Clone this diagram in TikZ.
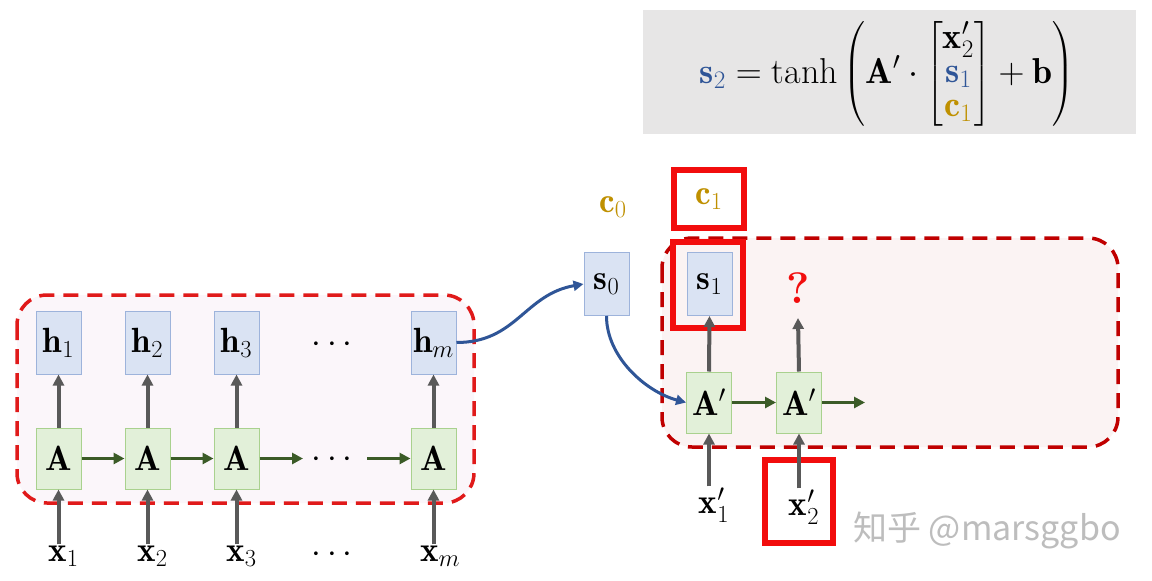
\RequirePackage{fix-cm}
\documentclass[tikz,border=0pt]{standalone}
\usepackage{amsmath}
\usepackage{fontspec}
\newfontfamily\cjkfont{Noto Sans CJK SC}
\usetikzlibrary{arrows.meta}
\definecolor{hfill}{HTML}{DAE3F3}
\definecolor{hborder}{HTML}{9DB3DB}
\definecolor{afill}{HTML}{E2F0D9}
\definecolor{aborder}{HTML}{A9D18E}
\definecolor{grayarrow}{HTML}{595959}
\definecolor{greenarrow}{HTML}{3B5B27}
\definecolor{sblue}{HTML}{2F5597}
\definecolor{cgold}{HTML}{BF9000}
\definecolor{redA}{HTML}{E01A1A}
\definecolor{redB}{HTML}{C00000}
\definecolor{boxred}{HTML}{F20D0D}
\definecolor{pinkA}{HTML}{FBF6FA}
\definecolor{pinkB}{HTML}{FBF3F3}
\definecolor{formgray}{HTML}{E7E6E6}
\definecolor{wmgray}{HTML}{BDBDBD}
\tikzset{
  hbox/.style={rectangle, fill=hfill, draw=hborder, line width=1pt, minimum width=45pt, minimum height=63pt, inner sep=0pt, font=\fontsize{35}{40}\selectfont},
  abox/.style={rectangle, fill=afill, draw=aborder, line width=1pt, minimum width=45pt, minimum height=61pt, inner sep=0pt, font=\fontsize{35}{40}\selectfont},
  lbl/.style={inner sep=1pt, font=\fontsize{35}{40}\selectfont},
  grayarr/.style={draw=grayarrow, line width=4pt, -{Triangle[length=11pt,width=11pt]}},
  greenarr/.style={draw=greenarrow, line width=3.5pt, -{Triangle[length=11pt,width=11pt]}},
  bluearr/.style={draw=sblue, line width=3pt, -{Triangle[length=10pt,width=10pt]}},
  dashbox/.style={line width=3.5pt, dash pattern=on 15pt off 9pt, rounded corners=30pt},
  redbox/.style={rectangle, draw=boxred, line width=6.5pt, inner sep=0pt},
}
\begin{document}
\begin{tikzpicture}[x=1pt,y=-1pt]
\useasboundingbox[fill=white] (0,0) rectangle (1152,581);
% formula box
\fill[formgray] (643,10) rectangle (1136,134);
\node[font=\fontsize{36}{34}\selectfont] (formula) at (887,74) {$\textcolor{sblue}{\mathbf{s}_2} = \tanh\left(\mathbf{A}'\cdot\begin{bmatrix}\mathbf{x}'_2\\ \textcolor{sblue}{\mathbf{s}_1}\\ \textcolor{cgold}{\mathbf{c}_1}\end{bmatrix} + \mathbf{b}\right)$};
% dashed regions
\draw[dashbox, draw=redA, fill=pinkA] (17,295) rectangle (474,503);
\draw[dashbox, draw=redB, fill=pinkB] (662,238) rectangle (1118,447);
% encoder
\foreach \n/\x in {1/58.5,2/147.5,3/236.5} {
  \node[hbox] (h\n) at (\x,342.5) {$\mathbf{h}_\n$};
  \node[abox] (A\n) at (\x,458.5) {$\mathbf{A}$};
  \node[lbl] (x\n) at (\x+5,556) {$\mathbf{x}_\n$};
  \draw[grayarr] (A\n.north) -- (h\n.south);
  \draw[grayarr] (A\n |- x\n.north) -- (A\n.south);
}
\node[hbox] (hm) at (433.5,342.5) {$\mathbf{h}_m$};
\node[abox] (Am) at (433.5,458.5) {$\mathbf{A}$};
\node[lbl] (xm) at (440,556) {$\mathbf{x}_m$};
\draw[grayarr] (Am.north) -- (hm.south);
\draw[grayarr] (Am |- xm.north) -- (Am.south);
\node[lbl] (dtop) at (335,345) {$\cdots$};
\node[lbl] (dmid) at (335,460) {$\cdots$};
\node[lbl] (dbot) at (335,555) {$\cdots$};
\coordinate (g3end) at (303,458.5);
\coordinate (gmstart) at (367,458.5);
\draw[greenarr] (A1.east) -- (A2.west);
\draw[greenarr] (A2.east) -- (A3.west);
\draw[greenarr] (A3.east) -- (g3end);
\draw[greenarr] (gmstart) -- (Am.west);
% decoder
\node[hbox] (s0) at (606.5,284) {$\mathbf{s}_0$};
\node[lbl, text=cgold] (c0) at (613,207) {$\mathbf{c}_0$};
\node[lbl, text=cgold] (c1) at (709,199) {$\mathbf{c}_1$};
\node[redbox, minimum width=70pt, minimum height=58pt] (c1box) at (709,199) {};
\node[hbox] (s1) at (709.5,284) {$\mathbf{s}_1$};
\node[redbox, minimum width=70pt, minimum height=86pt] (s1box) at (708,285) {};
\node[abox] (Ap1) at (709,402.5) {$\mathbf{A}'$};
\node[abox] (Ap2) at (799,402.5) {$\mathbf{A}'$};
\node[lbl, text=boxred, font=\fontsize{44}{48}\selectfont\bfseries] (q) at (798,288) {?};
\coordinate (qarr) at (798,318);
\coordinate (outend) at (865,402.5);
\node[lbl] (xp1) at (714,505) {$\mathbf{x}'_1$};
\node[lbl] (xp2) at (804,507) {$\mathbf{x}'_2$};
\node[redbox, minimum width=68pt, minimum height=83pt] (xp2box) at (799,501.5) {};
\draw[grayarr] (Ap1.north) -- (s1.south);
\draw[grayarr] (Ap2.north) -- (qarr);
\draw[grayarr] (Ap1 |- xp1.north) -- (Ap1.south);
\draw[grayarr] (Ap2 |- xp2.north) -- (Ap2.south);
\draw[greenarr] (Ap1.east) -- (Ap2.west);
\draw[greenarr] (Ap2.east) -- (outend);
% blue connectors
\draw[bluearr] (hm.east) to[out=0, in=190, looseness=1.1] (s0.west);
\draw[bluearr] (s0.south) to[out=-90, in=165, looseness=0.9] (Ap1.west);
% watermark
\node[text=wmgray, font=\cjkfont\fontsize{34}{40}\selectfont, inner sep=0pt] (wm) at (987,530) {知乎 @marsggbo};
\end{tikzpicture}
\end{document}
